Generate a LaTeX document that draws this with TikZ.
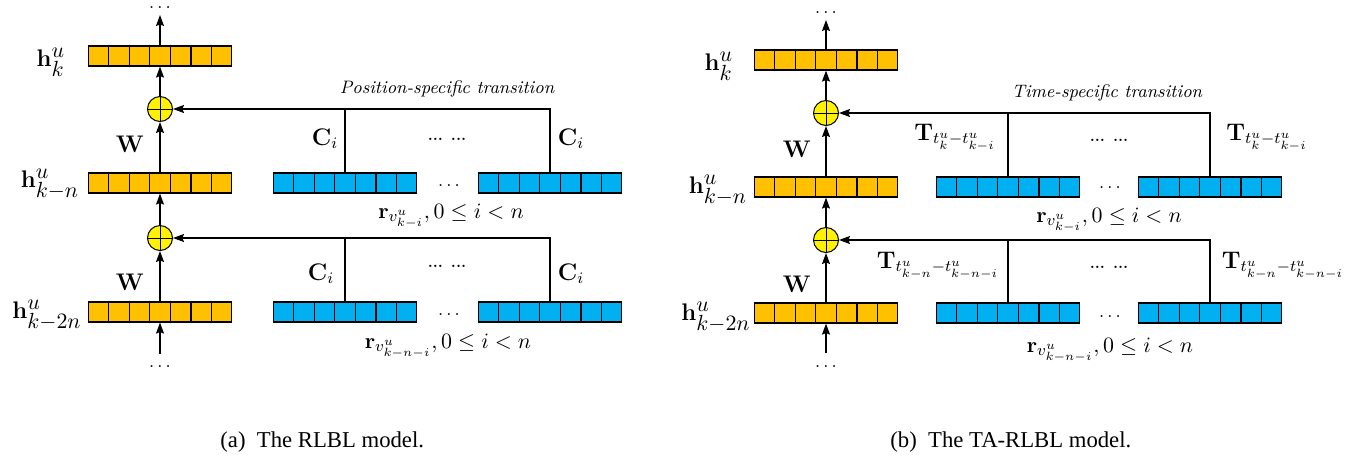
\documentclass[tikz,border=0pt]{standalone}
\usepackage{amsmath}
\usepackage{amssymb}
\usepackage[no-math]{fontspec}
\usepackage{tikz}
\usetikzlibrary{arrows.meta}
\usetikzlibrary{calc}
\usepackage{xcolor}

\newfontfamily\capfont{Liberation Serif}
\DeclareMathSizes{13}{13}{11}{8}

\definecolor{hcol}{HTML}{FFC000}
\definecolor{rcol}{HTML}{00B0F0}

\tikzset{
  cellrow/.style={draw, line width=0.6pt, minimum width=71.5pt, minimum height=10pt, inner sep=0pt},
  cellline/.style={line width=0.6pt},
  plus/.style={circle, draw, line width=0.5pt, fill=yellow, minimum size=12.5pt, inner sep=0pt,
    path picture={\draw[line width=0.5pt] (path picture bounding box.north) -- (path picture bounding box.south)
      (path picture bounding box.west) -- (path picture bounding box.east);}},
  flow/.style={line width=0.6pt, -{Stealth[length=5.5pt,width=4pt,inset=0.8pt]}},
  link/.style={line width=0.6pt},
  hlab/.style={anchor=base, inner sep=0pt, font=\fontsize{13}{15}\selectfont},
  wlab/.style={anchor=base, inner sep=0pt, font=\fontsize{13}{15}\selectfont},
  clab/.style={anchor=base, inner sep=0pt, font=\fontsize{11.5}{13}\selectfont},
  rlab/.style={anchor=base, inner sep=0pt, font=\fontsize{11.2}{13}\selectfont},
  ttl/.style={anchor=base, inner sep=0pt, font=\fontsize{9}{11}\selectfont\itshape},
  capt/.style={anchor=base west, inner sep=0pt, font=\capfont\fontsize{11.35}{13}\selectfont},
  hdots/.style={inner sep=0pt, font=\fontsize{7}{8}\selectfont\bfseries},
  mdots/.style={inner sep=0pt, font=\fontsize{9}{10}\selectfont},
}

\newcommand{\vecrow}[4]{%
  \node[cellrow, fill=#4] (#1) at (#2,#3) {};
  \foreach \c in {1,...,6}
    \draw[cellline] ($(#1.south west)!\c/7!(#1.south east)$) -- ($(#1.north west)!\c/7!(#1.north east)$);
}

\begin{document}
\begin{tikzpicture}[x=0.5pt, y=-0.5pt]
\useasboundingbox (0,0) rectangle (1371,462);

% (a)
\vecrow{ak}{160}{56}{hcol}
\vecrow{akn}{160}{183}{hcol}
\vecrow{ak2n}{160}{312}{hcol}
\vecrow{ara}{345}{183}{rcol}
\vecrow{arb}{550}{183}{rcol}
\vecrow{asa}{345}{312}{rcol}
\vecrow{asb}{550}{312}{rcol}
\node[plus] (apa) at (160,109) {};
\node[plus] (apb) at (160,238) {};
\node[mdots] (atop) at (160,8) {$\ldots$};
\node[mdots] (abot) at (160,367) {$\ldots$};
\coordinate (ahead) at (160,15);
\coordinate (atail) at (160,354);

\draw[flow] (ak.north) -- (ahead);
\draw[flow] (apa.north) -- (ak.south);
\draw[flow] (akn.north) -- (apa.south);
\draw[flow] (apb.north) -- (akn.south);
\draw[flow] (ak2n.north) -- (apb.south);
\draw[flow] (atail) -- (ak2n.south);
\draw[flow] (arb.north) |- (apa.east);
\draw[link] (ara.north) -- (ara.north |- apa.east);
\draw[flow] (asb.north) |- (apb.east);
\draw[link] (asa.north) -- (asa.north |- apb.east);

\node[hlab] (lak) at (51,66) {$\mathbf{h}^u_{k}$};
\node[hlab] (lakn) at (50,187) {$\mathbf{h}^u_{k-n}$};
\node[hlab] (lak2n) at (47,318) {$\mathbf{h}^u_{k-2n}$};
\node[wlab] (law1) at (130,152) {$\mathbf{W}$};
\node[wlab] (law2) at (130,290) {$\mathbf{W}$};
\node[clab] (lac1) at (325,145) {$\mathbf{C}_i$};
\node[clab] (lac2) at (571,145) {$\mathbf{C}_i$};
\node[clab] (lac3) at (321,280) {$\mathbf{C}_i$};
\node[clab] (lac4) at (571,280) {$\mathbf{C}_i$};
\node[hdots] (adots1) at (447,139) {...\hspace{4pt}...};
\node[hdots] (adots2) at (447,266) {...\hspace{4pt}...};
\node[mdots] (amid1) at (449,186) {$\ldots$};
\node[mdots] (amid2) at (449,315) {$\ldots$};
\node[rlab] (lar1) at (451,218) {$\mathbf{r}_{v^u_{k-i}}, 0 \leq i < n$};
\node[rlab] (lar2) at (448,348) {$\mathbf{r}_{v^u_{k-n-i}}, 0 \leq i < n$};
\node[ttl] (attl) at (447,93) {Position-specific transition};
\node[capt] (acap) at (220,447) {(a)\enspace The RLBL model.};

% (b)
\vecrow{bk}{826}{60}{hcol}
\vecrow{bkn}{826}{187}{hcol}
\vecrow{bk2n}{826}{313}{hcol}
\vecrow{bra}{1008}{187}{rcol}
\vecrow{brb}{1210}{187}{rcol}
\vecrow{bsa}{1008}{313}{rcol}
\vecrow{bsb}{1210}{313}{rcol}
\node[plus] (bpa) at (826,113) {};
\node[plus] (bpb) at (826,240) {};
\node[mdots] (btop) at (826,13) {$\ldots$};
\node[mdots] (bbot) at (826,367) {$\ldots$};
\coordinate (bhead) at (826,20);
\coordinate (btail) at (826,353);

\draw[flow] (bk.north) -- (bhead);
\draw[flow] (bpa.north) -- (bk.south);
\draw[flow] (bkn.north) -- (bpa.south);
\draw[flow] (bpb.north) -- (bkn.south);
\draw[flow] (bk2n.north) -- (bpb.south);
\draw[flow] (btail) -- (bk2n.south);
\draw[flow] (brb.north) |- (bpa.east);
\draw[link] (bra.north) -- (bra.north |- bpa.east);
\draw[flow] (bsb.north) |- (bpb.east);
\draw[link] (bsa.north) -- (bsa.north |- bpb.east);

\node[hlab] (lbk) at (719,70) {$\mathbf{h}^u_{k}$};
\node[hlab] (lbkn) at (718,193) {$\mathbf{h}^u_{k-n}$};
\node[hlab] (lbk2n) at (716,320) {$\mathbf{h}^u_{k-2n}$};
\node[wlab] (lbw1) at (797,157) {$\mathbf{W}$};
\node[wlab] (lbw2) at (797,292) {$\mathbf{W}$};
\node[clab] (lbt1) at (955,140) {$\mathbf{T}_{t^u_{k}-t^u_{k-i}}$};
\node[clab] (lbt2) at (1267,140) {$\mathbf{T}_{t^u_{k}-t^u_{k-i}}$};
\node[clab] (lbt3) at (938,268) {$\mathbf{T}_{t^u_{k-n}-t^u_{k-n-i}}$};
\node[clab] (lbt4) at (1283,268) {$\mathbf{T}_{t^u_{k-n}-t^u_{k-n-i}}$};
\node[hdots] (bdots1) at (1109,140) {...\hspace{4pt}...};
\node[hdots] (bdots2) at (1109,267) {...\hspace{4pt}...};
\node[mdots] (bmid1) at (1110,188) {$\ldots$};
\node[mdots] (bmid2) at (1110,317) {$\ldots$};
\node[rlab] (lbr1) at (1109,222) {$\mathbf{r}_{v^u_{k-i}}, 0 \leq i < n$};
\node[rlab] (lbr2) at (1110,352) {$\mathbf{r}_{v^u_{k-n-i}}, 0 \leq i < n$};
\node[ttl] (bttl) at (1107,97) {Time-specific transition};
\node[capt] (bcap) at (890,447) {(b)\enspace The TA-RLBL model.};
\end{tikzpicture}
\end{document}
